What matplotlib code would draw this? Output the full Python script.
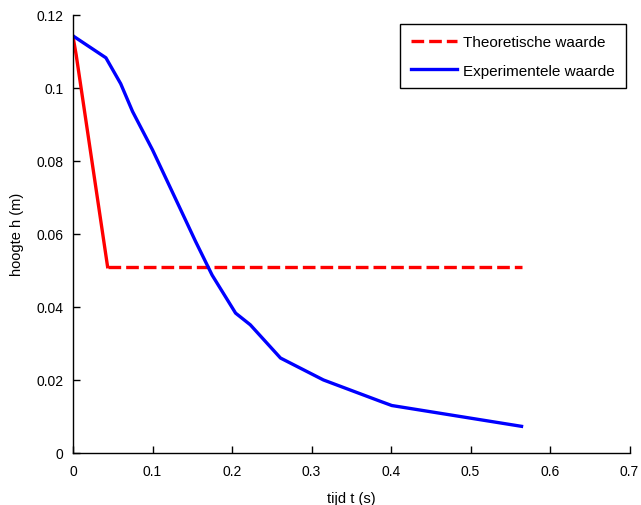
import matplotlib
matplotlib.use("Agg")
import matplotlib.pyplot as plt

plt.rcParams['font.family'] = ['Liberation Sans', 'DejaVu Sans']

theo_t = [0.0, 0.004, 0.0435, 0.5645]
theo_h = [0.1140, 0.1090, 0.0510, 0.0510]

exp_t = [0.0, 0.0414, 0.060, 0.0749, 0.100, 0.140, 0.154, 0.175, 0.2045, 0.223, 0.261, 0.315, 0.386, 0.401, 0.5642]
exp_h = [0.1142, 0.1082, 0.1011, 0.0935, 0.0830, 0.0645, 0.0580, 0.0487, 0.0383, 0.0351, 0.0260, 0.0200, 0.0142, 0.0130, 0.0073]

xticks = [0, 0.1, 0.2, 0.3, 0.4, 0.5, 0.6, 0.7]
xticklabels = ['0', '0.1', '0.2', '0.3', '0.4', '0.5', '0.6', '0.7']
yticks = [0, 0.02, 0.04, 0.06, 0.08, 0.1, 0.12]
yticklabels = ['0', '0.02', '0.04', '0.06', '0.08', '0.1', '0.12']

fig = plt.figure(figsize=(6.41, 5.06), dpi=100)
ax = fig.add_axes([73/641, (506-454)/506, (629.5-73)/641, (454-15.7)/506])

red = '#ff0000'
dash = (0, (3.8, 1.5))
# steep part of theoretical curve renders as continuous line in the original
ax.plot(theo_t[:3], theo_h[:3], color=red, linestyle='-', linewidth=2.4)
ax.plot(theo_t[2:], theo_h[2:], color=red, linestyle=dash, linewidth=2.4, dash_capstyle='butt')
ax.plot([], [], color=red, linestyle=dash, linewidth=2.4, label='Theoretische waarde')
ax.plot(exp_t, exp_h, color='#0000ff', linestyle='-', linewidth=2.4, label='Experimentele waarde')

ax.set_xlim(0, 0.7)
ax.set_ylim(0, 0.12)
ax.set_xticks(xticks)
ax.set_xticklabels(xticklabels)
ax.set_yticks(yticks)
ax.set_yticklabels(yticklabels)
ax.spines['top'].set_visible(False)
ax.spines['right'].set_visible(False)
for s in ['left', 'bottom']:
    ax.spines[s].set_linewidth(1.0)
ax.tick_params(direction='in', length=5, width=1, labelsize=10, pad=8)
ax.tick_params(axis='y', pad=7)

ax.set_xlabel('tijd t (s)', fontsize=10.5, labelpad=9)
ax.set_ylabel('hoogte h (m)', fontsize=10.5, labelpad=9)

leg = ax.legend(loc='upper right', bbox_to_anchor=(0.999, 0.985), fontsize=11, fancybox=False,
                edgecolor='black', framealpha=1, handlelength=3.0, borderpad=0.7,
                labelspacing=0.95, handletextpad=0.45, borderaxespad=0.2)
leg.get_frame().set_linewidth(1.0)

fig.savefig('out.png', dpi=100)
